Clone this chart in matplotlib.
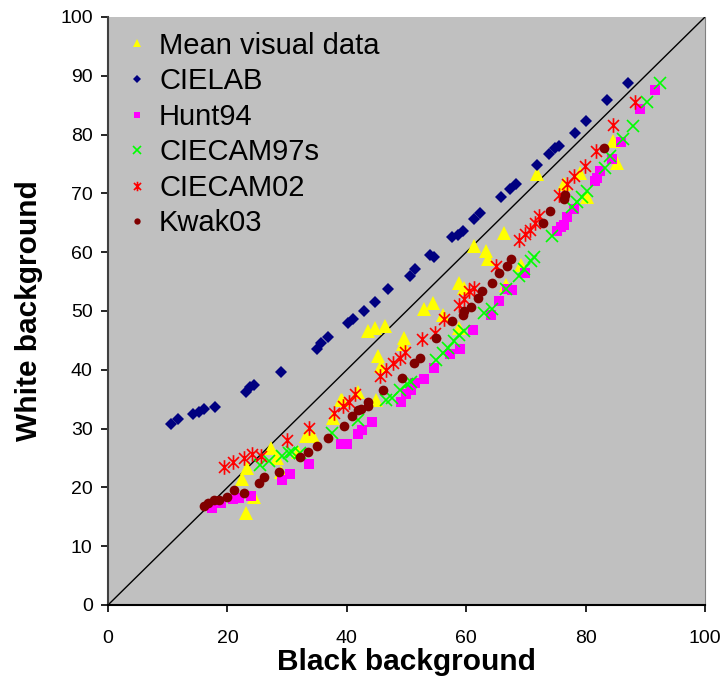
import matplotlib
matplotlib.use('Agg')
import matplotlib.pyplot as plt
from matplotlib.path import Path

plt.rcParams['font.family'] = ['Liberation Sans', 'DejaVu Sans']

# Mean visual data (yellow triangles)
visual_x = [23.1, 22.4, 23.3, 24.5, 27.3, 28.3, 28.9, 31.9, 33.2, 34.4, 37.7, 39.2,
            41.9, 44.9, 39.0, 43.6, 44.7, 46.4, 49.6, 49.4, 45.3, 45.7, 53.0, 54.4,
            56.1, 58.8, 59.6, 58.8, 61.3, 63.3, 63.6, 66.3, 66.6, 69.1, 71.9, 76.3,
            79.1, 80.2, 84.6, 85.2]
visual_y = [15.6, 21.4, 23.3, 18.4, 26.7, 25.0, 22.7, 26.1, 28.7, 28.7, 31.8, 34.9,
            36.3, 34.9, 34.9, 46.6, 47.1, 47.4, 45.4, 44.3, 42.3, 40.6, 50.3, 51.4,
            49.4, 54.8, 53.9, 47.1, 61.0, 60.2, 58.8, 63.3, 54.5, 57.9, 73.3, 71.6,
            73.5, 69.3, 78.9, 75.2]

# CIELAB (navy diamonds)
cielab_x = [10.6, 11.8, 14.3, 15.2, 16.0, 17.9, 23.1, 23.7, 24.5, 28.9, 35.0, 35.7,
            36.9, 40.2, 41.1, 42.8, 44.7, 46.9, 50.5, 51.5, 53.9, 54.6, 57.7, 58.6,
            59.4, 61.3, 62.3, 65.8, 67.4, 68.3, 71.8, 73.8, 74.9, 75.5, 78.3, 80.1,
            83.5, 87.1]
cielab_y = [30.8, 31.6, 32.5, 32.8, 33.3, 33.6, 36.2, 37.1, 37.4, 39.7, 43.6, 44.6,
            45.6, 48.0, 48.7, 50.0, 51.5, 53.7, 55.9, 57.1, 59.5, 59.1, 62.5, 63.0,
            63.6, 65.6, 66.7, 69.3, 70.8, 71.6, 74.8, 76.7, 77.8, 78.1, 80.3, 82.3,
            85.9, 88.8]

# Hunt94 (magenta squares)
hunt_x = [17.5, 18.9, 20.9, 22.0, 23.9, 29.2, 30.4, 33.7, 39.0, 40.0, 41.9, 42.5,
          44.2, 49.1, 49.9, 50.8, 51.5, 52.9, 54.6, 57.3, 59.0, 61.2, 64.1, 65.5,
          66.9, 67.7, 69.9, 75.2, 75.8, 76.3, 76.9, 78.0, 81.6, 81.9, 82.4, 84.4,
          86.0, 89.1, 91.6]
hunt_y = [16.5, 17.3, 18.0, 18.2, 18.6, 21.3, 22.3, 24.0, 27.3, 27.3, 29.0, 29.8,
          31.1, 34.6, 35.8, 36.6, 37.8, 38.5, 40.3, 42.6, 43.6, 46.8, 49.4, 51.7,
          53.7, 53.5, 56.5, 63.6, 64.2, 64.7, 65.9, 67.3, 72.1, 72.7, 73.8, 75.8,
          78.7, 84.3, 87.5]

# CIECAM97s (green crosses)
cam97_x = [25.4, 26.9, 29.2, 30.3, 30.8, 32.2, 37.5, 41.9, 46.6, 47.5, 48.9, 50.0,
           50.8, 55.0, 56.1, 56.9, 58.0, 58.8, 59.6, 63.0, 64.4, 66.6, 68.8, 69.7,
           70.8, 71.3, 74.4, 77.7, 78.5, 79.4, 80.2, 83.3, 84.1, 86.3, 87.9, 90.2,
           92.5]
cam97_y = [23.8, 24.5, 25.4, 25.8, 26.1, 25.8, 29.2, 31.5, 34.9, 35.2, 36.6, 37.5,
           38.0, 41.7, 42.9, 43.7, 44.9, 46.0, 46.6, 49.7, 50.4, 53.7, 55.9, 57.1,
           58.5, 59.1, 62.7, 67.6, 68.5, 69.3, 70.4, 74.4, 76.4, 79.2, 81.5, 85.6,
           88.8]

# CIECAM02 (red asterisks)
cam02_x = [19.5, 20.9, 22.8, 24.2, 25.6, 30.0, 33.6, 37.8, 39.4, 40.3, 41.3, 45.5,
           46.6, 47.8, 48.9, 49.8, 52.6, 54.7, 56.2, 58.8, 59.6, 60.5, 61.3, 65.0,
           68.8, 69.8, 70.6, 71.6, 72.2, 75.5, 76.9, 78.0, 79.9, 81.8, 84.6, 88.2]
cam02_y = [23.5, 24.4, 25.0, 25.6, 25.4, 28.1, 30.1, 32.7, 33.8, 34.6, 35.8, 38.9,
           40.0, 41.2, 42.0, 43.0, 45.3, 46.3, 48.7, 51.1, 52.0, 53.4, 53.9, 57.6,
           62.0, 63.1, 63.7, 65.0, 66.2, 69.8, 71.6, 73.0, 74.7, 77.2, 81.6, 85.5]

# Kwak03 (dark red circles)
kwak_x = [16.1, 16.7, 17.8, 18.6, 19.9, 21.1, 22.8, 25.3, 26.1, 28.6, 32.2, 33.5,
          35.0, 36.9, 39.6, 40.8, 41.9, 42.4, 43.5, 43.6, 46.1, 49.3, 51.2, 52.2,
          55.0, 57.7, 59.4, 59.6, 60.8, 61.9, 62.7, 64.4, 65.5, 66.8, 67.5, 72.8,
          74.0, 76.3, 76.6, 83.1]
kwak_y = [16.8, 17.3, 17.8, 17.9, 18.4, 19.5, 19.0, 20.8, 21.7, 22.7, 25.2, 26.0,
          27.0, 28.4, 30.5, 32.2, 33.1, 33.4, 33.9, 34.5, 36.6, 38.6, 41.1, 42.0,
          45.4, 48.3, 49.4, 50.0, 50.7, 52.2, 53.4, 54.8, 56.5, 57.6, 58.8, 65.0,
          67.0, 69.0, 69.8, 77.8]

# excel style star: an x with a vertical bar
star = Path([(0, -1), (0, 1), (-0.75, -0.75), (0.75, 0.75), (-0.75, 0.75), (0.75, -0.75)],
            [Path.MOVETO, Path.LINETO, Path.MOVETO, Path.LINETO, Path.MOVETO, Path.LINETO])

fig = plt.figure(figsize=(7.24, 6.79), dpi=100)
ax = fig.add_axes([0.1492, 0.109, 0.8246, 0.866])
ax.set_facecolor('#C0C0C0')

ax.plot([0, 100], [0, 100], color='black', linewidth=1, zorder=2)

ax.plot(visual_x, visual_y, linestyle='none', marker='^', markersize=9.5,
        color='#FFFF00', markeredgewidth=0, label='Mean visual data', zorder=3)
ax.plot(cielab_x, cielab_y, linestyle='none', marker='D', markersize=6,
        color='#000080', markeredgewidth=0, label='CIELAB', zorder=4)
ax.plot(hunt_x, hunt_y, linestyle='none', marker='s', markersize=6.5,
        color='#FF00FF', markeredgewidth=0, label='Hunt94', zorder=5)
ax.plot(cam97_x, cam97_y, linestyle='none', marker='x', markersize=8.5,
        color='#00FF00', markeredgewidth=1.2, label='CIECAM97s', zorder=6)
ax.plot(cam02_x, cam02_y, linestyle='none', marker=star, markersize=10.5,
        color='#FF0000', markeredgewidth=1.2, label='CIECAM02', zorder=7)
ax.plot(kwak_x, kwak_y, linestyle='none', marker='o', markersize=7,
        color='#800000', markeredgewidth=0, label='Kwak03', zorder=8)

ax.set_xlim(0, 100)
ax.set_ylim(0, 100)
ax.set_xticks(range(0, 101, 20))
ax.set_yticks(range(0, 101, 10))
ax.tick_params(axis='both', direction='out', length=5, width=1.2, labelsize=14)
ax.tick_params(axis='x', pad=13)
ax.tick_params(axis='y', pad=6)

ax.spines['left'].set_color('#404040')
ax.spines['left'].set_linewidth(1.5)
ax.spines['bottom'].set_color('black')
ax.spines['bottom'].set_linewidth(1.5)
ax.spines['top'].set_visible(False)
ax.spines['right'].set_color('#808080')

ax.set_xlabel('Black background', fontsize=21.5, fontweight='bold', labelpad=1)
ax.set_ylabel('White background', fontsize=21.5, fontweight='bold', labelpad=12)

ax.legend(loc='upper left', frameon=False, fontsize=21, handletextpad=0.25,
          borderaxespad=0.3, labelspacing=0.26, markerscale=0.65, handlelength=1.0,
          borderpad=0.2)

plt.savefig('out.png', dpi=100)
